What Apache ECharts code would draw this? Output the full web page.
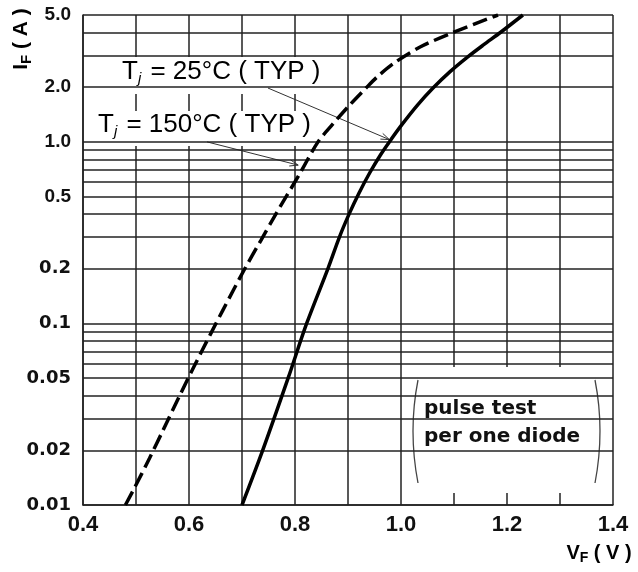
<!DOCTYPE html>
<html><head><meta charset="utf-8">
<script src="https://cdn.jsdelivr.net/npm/echarts@6/dist/echarts.min.js"></script>
<style>html,body{margin:0;padding:0;background:#fff}#c{width:638px;height:572px}</style>
</head><body><div id="c"></div>
<script>
// ---- data ----
const xLabelValues = [0.4, 0.6, 0.8, 1.0, 1.2, 1.4];
const yGridValues = [0.01,0.02,0.03,0.04,0.05,0.06,0.07,0.08,0.09,
                     0.1,0.2,0.3,0.4,0.5,0.6,0.7,0.8,0.9,
                     1,2,3,4,5];
const yLabelValues = [0.01, 0.02, 0.05, 0.1, 0.2, 0.5, 1, 2, 5];
const yLabelTexts  = ['0.01','0.02','0.05','0.1','0.2','0.5','1.0','2.0','5.0'];
// Tj = 150 C (dashed)
const vf150 = [0.480,0.497,0.5255,0.551,0.581,0.609,0.6415,0.664,0.704,0.736,0.766,0.8075,0.8434,0.870,0.900,0.934,0.955,0.987,1.036,1.096,1.183];
const if150 = [0.01,0.0124,0.0181,0.0258,0.0393,0.0575,0.0885,0.1185,0.197,0.288,0.41,0.657,1.0,1.24,1.56,1.98,2.28,2.72,3.33,3.98,5.0];
// Tj = 25 C (solid)
const vf25 = [0.70,0.739,0.787,0.822,0.862,0.884,0.902,0.9204,0.9408,0.9615,0.978,1.0013,1.0315,1.0604,1.0921,1.126,1.1555,1.1887,1.230];
const if25 = [0.01,0.02,0.05,0.1,0.2,0.3,0.4,0.52,0.674,0.85,1.0,1.24,1.6,1.98,2.43,2.94,3.42,4.03,5.0];

const zip = (a, b) => a.map((v, i) => [v, b[i]]);

const chart = echarts.init(document.getElementById('c'), null, {renderer: 'canvas'});
const upperFont = {fontFamily: 'Liberation Sans', fontWeight: 'bold', fontSize: 19, color: '#111'};
const lowerFont = {fontFamily: 'DejaVu Sans', fontWeight: 'bold', fontSize: 18, color: '#111'};

const gridMarks = yGridValues.map(v => {
  const li = yLabelValues.indexOf(v);
  const item = {yAxis: v};
  if (li >= 0) {
    item.label = Object.assign({show: true, position: 'start', distance: 12, formatter: yLabelTexts[li]},
      v >= 0.5 ? upperFont : lowerFont);
  }
  return item;
});

chart.setOption({
  animation: false,
  backgroundColor: '#fff',
  grid: {left: 83, right: 25, top: 15, bottom: 67},
  xAxis: {
    type: 'value', min: 0.4, max: 1.4, interval: 0.1,
    axisLine: {show: true, lineStyle: {color: '#222', width: 1.5}},
    axisTick: {show: false},
    splitLine: {show: true, lineStyle: {color: '#222', width: 1.5}},
    axisLabel: {
      margin: 9, fontFamily: 'Liberation Sans', fontWeight: 'bold', fontSize: 22, color: '#111',
      formatter: v => {
        const r = Math.round(v * 10);
        return xLabelValues.some(x => Math.round(x * 10) === r) ? (r / 10).toFixed(1) : '';
      }
    }
  },
  yAxis: {
    type: 'log', logBase: 10, min: 0.01, max: 5,
    axisLine: {show: true, lineStyle: {color: '#222', width: 1.5}},
    axisTick: {show: false},
    axisLabel: {show: false},
    splitLine: {show: false}
  },
  series: [
    {
      type: 'line', z: 1, data: [[1.4, 5]], showSymbol: false, silent: true,
      lineStyle: {opacity: 0},
      markLine: {
        silent: true, symbol: ['none', 'none'], animation: false,
        lineStyle: {color: '#222', width: 1.5, type: 'solid'},
        label: {show: false},
        emphasis: {disabled: true},
        data: gridMarks
      }
    },
    {
      name: '150', type: 'line', z: 5, data: zip(vf150, if150), smooth: 0.3,
      showSymbol: false, symbol: 'none',
      lineStyle: {color: '#000', width: 3.5, type: [15, 6]}
    },
    {
      name: '25', type: 'line', z: 5, data: zip(vf25, if25), smooth: 0.3,
      showSymbol: false, symbol: 'none',
      lineStyle: {color: '#000', width: 3.5}
    }
  ]
});

// ---- annotations ----
const leaders = [
  {from: [0.749, 1.98], to: [0.978, 1.03]},
  {from: [0.634, 1.0], to: [0.806, 0.745]}
];
const els = [];
// white boxes behind labels
els.push({type: 'rect', z: 3, shape: {x: 120, y: 57, width: 207, height: 37}, style: {fill: '#fff'}});
els.push({type: 'rect', z: 3, shape: {x: 90, y: 111, width: 227, height: 35}, style: {fill: '#fff'}});
els.push({type: 'rect', z: 3, shape: {x: 408, y: 367, width: 190, height: 126}, style: {fill: '#fff'}});

const labRich = {
  t: {fontFamily: 'Liberation Sans', fontSize: 26, color: '#111', lineHeight: 30},
  s: {fontFamily: 'Liberation Sans', fontSize: 15, fontStyle: 'italic', color: '#111', padding: [14, 2, 0, 0], lineHeight: 30}
};
els.push({type: 'text', z: 4, x: 122, y: 72, style: {
  text: '{t|T}{s|j}{t| = 25°C ( TYP )}', rich: labRich, verticalAlign: 'middle', align: 'left'}});
els.push({type: 'text', z: 4, x: 98, y: 125, style: {
  text: '{t|T}{s|j}{t| = 150°C ( TYP )}', rich: labRich, verticalAlign: 'middle', align: 'left'}});

leaders.forEach(l => {
  const p0 = chart.convertToPixel({gridIndex: 0}, l.from);
  const p1 = chart.convertToPixel({gridIndex: 0}, l.to);
  els.push({type: 'line', z: 4, shape: {x1: p0[0], y1: p0[1], x2: p1[0], y2: p1[1]},
    style: {stroke: '#333', lineWidth: 1}});
  const ang = Math.atan2(p1[1] - p0[1], p1[0] - p0[0]);
  const L = 9, a = 0.35;
  els.push({type: 'polyline', z: 4, shape: {points: [
    [p1[0] - L * Math.cos(ang - a), p1[1] - L * Math.sin(ang - a)],
    [p1[0], p1[1]],
    [p1[0] - L * Math.cos(ang + a), p1[1] - L * Math.sin(ang + a)]
  ]}, style: {stroke: '#333', lineWidth: 1, fill: null}});
});

// pulse test note
els.push({type: 'bezierCurve', z: 4, shape: {x1: 418, y1: 380, x2: 418, y2: 483, cpx1: 408, cpy1: 431},
  style: {stroke: '#444', lineWidth: 1.3, fill: null}});
els.push({type: 'bezierCurve', z: 4, shape: {x1: 595, y1: 380, x2: 595, y2: 483, cpx1: 605, cpy1: 431},
  style: {stroke: '#444', lineWidth: 1.3, fill: null}});
els.push({type: 'text', z: 4, x: 424, y: 419, style: {
  text: 'pulse test', fontFamily: 'DejaVu Sans', fontWeight: 'bold', fontSize: 20, fill: '#111',
  verticalAlign: 'bottom', align: 'left'}});
els.push({type: 'text', z: 4, x: 424, y: 447, style: {
  text: 'per one diode', fontFamily: 'DejaVu Sans', fontWeight: 'bold', fontSize: 20, fill: '#111',
  verticalAlign: 'bottom', align: 'left'}});

// axis names
els.push({type: 'text', z: 4, x: 599, y: 553, style: {
  text: '{m|V}{s|F}{m| ( V )}',
  rich: {
    m: {fontFamily: 'Liberation Sans', fontWeight: 'bold', fontSize: 20, color: '#111', lineHeight: 24},
    s: {fontFamily: 'Liberation Sans', fontWeight: 'bold', fontSize: 14, color: '#111', padding: [10, 0, 0, 0], lineHeight: 24}
  },
  align: 'center', verticalAlign: 'middle'}});
els.push({type: 'text', z: 4, x: 21, y: 39, rotation: Math.PI / 2, style: {
  text: '{m|I}{s|F}{m| ( A )}',
  rich: {
    m: {fontFamily: 'Liberation Sans', fontWeight: 'bold', fontSize: 21, color: '#111', lineHeight: 26},
    s: {fontFamily: 'Liberation Sans', fontWeight: 'bold', fontSize: 15, color: '#111', padding: [11, 0, 0, 0], lineHeight: 26}
  },
  align: 'center', verticalAlign: 'middle'}});

chart.setOption({graphic: {elements: els}});
</script>
</body></html>
